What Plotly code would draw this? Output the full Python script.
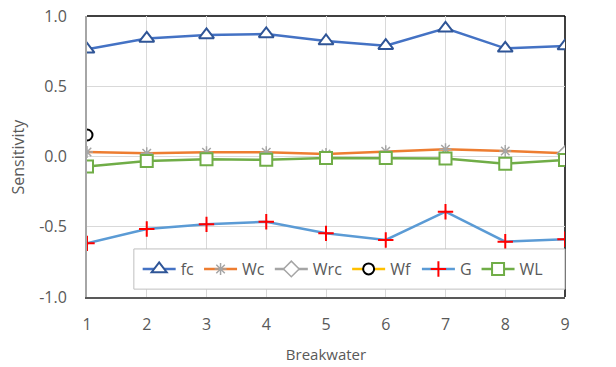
import plotly.graph_objects as go

# Breakwater index on the horizontal axis
breakwater = [1, 2, 3, 4, 5, 6, 7, 8, 9]

# Sensitivity of each parameter per breakwater
fc = [0.763, 0.840, 0.865, 0.872, 0.822, 0.789, 0.912, 0.770, 0.786]
wc = [0.032, 0.023, 0.030, 0.030, 0.018, 0.037, 0.051, 0.039, 0.023]
wrc = [None, None, None, None, None, None, None, None, 0.020]
wf = [0.153, None, None, None, None, None, None, None, None]
g = [-0.618, -0.516, -0.483, -0.464, -0.547, -0.594, -0.393, -0.606, -0.589]
wl = [-0.072, -0.032, -0.020, -0.023, -0.011, -0.011, -0.015, -0.051, -0.025]

y_ticks = [-1.0, -0.5, 0.0, 0.5, 1.0]
y_tick_text = ["-1.0", "-0.5", "0.0", "0.5", "1.0"]

FONT = "Open Sans"
TXT = "#595959"

fig = go.Figure()

fig.add_trace(go.Scatter(
    x=breakwater, y=fc, name="fc", mode="lines+markers",
    line=dict(color="#4472C4", width=2.5),
    marker=dict(symbol="triangle-up", size=13, color="white",
                line=dict(color="#2F5597", width=2)),
))
fig.add_trace(go.Scatter(
    x=breakwater, y=wc, name="Wc", mode="lines+markers",
    line=dict(color="#ED7D31", width=2.5),
    marker=dict(symbol="asterisk-open", size=10, color="#A5A5A5",
                line=dict(color="#A5A5A5", width=1.5)),
))
fig.add_trace(go.Scatter(
    x=breakwater, y=wrc, name="Wrc", mode="lines+markers",
    line=dict(color="#A5A5A5", width=2.5),
    marker=dict(symbol="diamond", size=12, color="white",
                line=dict(color="#A5A5A5", width=1.5)),
))
fig.add_trace(go.Scatter(
    x=breakwater, y=wf, name="Wf", mode="lines+markers",
    line=dict(color="#FFC000", width=2.5),
    marker=dict(symbol="circle", size=11, color="white",
                line=dict(color="black", width=2)),
))
fig.add_trace(go.Scatter(
    x=breakwater, y=g, name="G", mode="lines+markers",
    line=dict(color="#5B9BD5", width=2.5),
    marker=dict(symbol="cross-thin-open", size=11, color="#FF0000",
                line=dict(color="#FF0000", width=2)),
))
fig.add_trace(go.Scatter(
    x=breakwater, y=wl, name="WL", mode="lines+markers",
    line=dict(color="#70AD47", width=2.5),
    marker=dict(symbol="square", size=12, color="white",
                line=dict(color="#70AD47", width=2)),
))

# Plot-area frame: dark top and right edges
fig.add_shape(type="line", xref="paper", yref="paper", x0=0, x1=1, y0=1, y1=1,
              line=dict(color="black", width=1.5), layer="below")
fig.add_shape(type="line", xref="paper", yref="paper", x0=1, x1=1, y0=0, y1=1,
              line=dict(color="black", width=1.5), layer="below")

# Legend box (drawn as a shape so its height can be set freely)
fig.add_shape(type="rect", xref="paper", yref="paper",
              x0=0.098, x1=0.9999, y0=0.028, y1=0.171,
              line=dict(color="#BFBFBF", width=1), fillcolor="white", layer="above")

# Vertical axis title
fig.add_annotation(text="Sensitivity", xref="paper", yref="paper",
                   x=(17 - 87) / 478, y=0.5, xanchor="center", yanchor="middle",
                   textangle=-90, showarrow=False,
                   font=dict(family=FONT, size=16, color=TXT))

fig.update_layout(
    width=616, height=367,
    margin=dict(l=87, r=51, t=16, b=70),
    paper_bgcolor="white", plot_bgcolor="white",
    font=dict(family=FONT, size=16, color=TXT),
    showlegend=True,
    legend=dict(
        orientation="h", x=0.106, y=0.0995, xanchor="left", yanchor="middle",
        bgcolor="rgba(0,0,0,0)", borderwidth=0,
        font=dict(family=FONT, size=16, color=TXT),
        tracegroupgap=0, itemwidth=33,
    ),
    xaxis=dict(
        range=[1, 9], tickmode="array", tickvals=breakwater,
        ticktext=[str(v) for v in breakwater],
        showgrid=True, gridcolor="#D9D9D9", gridwidth=1,
        zeroline=False, showline=True, linecolor="#595959", linewidth=1.5,
        ticks="", ticklabelstandoff=12, automargin=False,
        title=dict(text="Breakwater", standoff=16,
                   font=dict(family=FONT, size=15, color=TXT)),
        tickfont=dict(family=FONT, size=16, color=TXT),
    ),
    yaxis=dict(
        range=[-1.0, 1.0], tickmode="array", tickvals=y_ticks, ticktext=y_tick_text,
        showgrid=True, gridcolor="#D9D9D9", gridwidth=1,
        zeroline=False, showline=True, linecolor="#A6A6A6", linewidth=2,
        ticks="", ticklabelstandoff=15, automargin=False,
        tickfont=dict(family=FONT, size=16, color=TXT),
    ),
)

fig.write_html("out.html")
